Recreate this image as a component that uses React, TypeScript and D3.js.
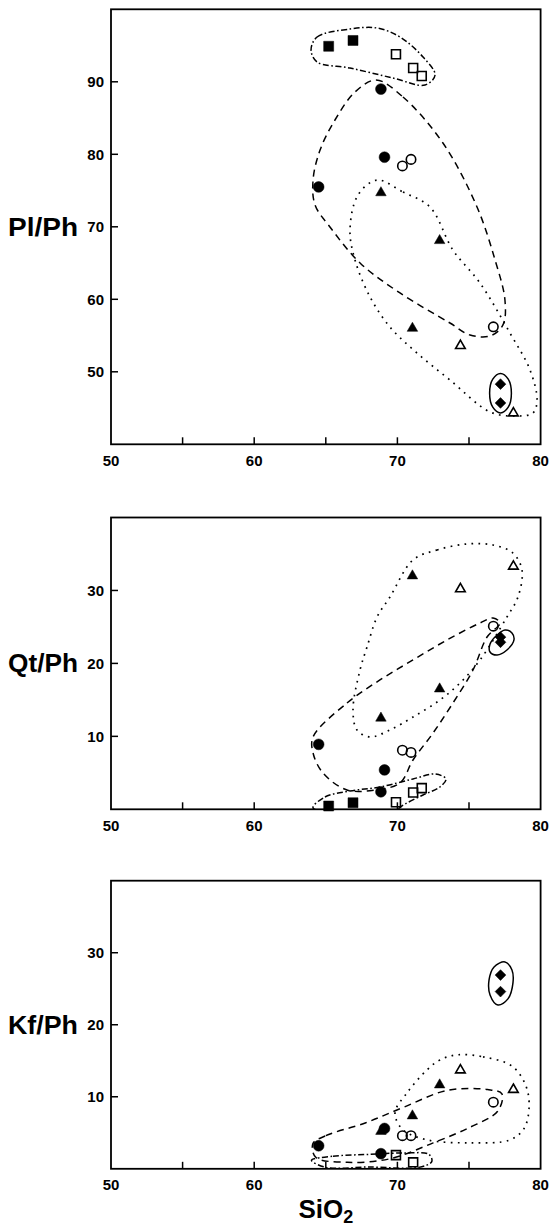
import React from "react";
import * as d3 from "d3";

// sample symbols, in the same order as the value arrays below
const SAMPLE_TYPES = [
  "squareFilled", "squareFilled",
  "squareOpen", "squareOpen", "squareOpen",
  "circleFilled", "circleFilled", "circleFilled",
  "circleOpen", "circleOpen", "circleOpen",
  "triangleFilled", "triangleFilled", "triangleFilled",
  "triangleOpen", "triangleOpen",
  "diamond", "diamond",
];

const SIO2 = [65.2, 66.9, 69.9, 71.1, 71.7, 64.5, 68.85, 69.1, 70.35, 70.95, 76.7, 68.85, 71.05, 72.95, 74.4, 78.1, 77.2, 77.2];
const PL_PH = [94.9, 95.7, 93.8, 91.9, 90.8, 75.5, 89.0, 79.6, 78.4, 79.3, 56.2, 74.7, 56.0, 68.1, 53.6, 44.3, 48.3, 45.7];
const QT_PH = [0.45, 0.9, 0.96, 2.3, 2.9, 8.9, 2.4, 5.4, 8.1, 7.8, 25.1, 12.5, 32.0, 16.5, 30.2, 33.3, 23.6, 22.9];
const KF_PH = [null, null, 1.9, 0.9, null, 3.2, 2.1, 5.6, 4.6, 4.6, 9.25, 5.2, 7.35, 11.65, 13.7, 11.0, 26.9, 24.6];

const X_TICKS = [55, 60, 65, 70, 75];
const X_LABELS = [50, 60, 70, 80];
const PL_TICKS = [50, 60, 70, 80, 90];
const RATIO_TICKS = [10, 20, 30];

// hand-drawn group envelopes, [SiO2, ratio]
const PL_ENV_SQUARES = [[63.97, 94.39], [64.39, 96.18], [66.69, 97.28], [68.58, 97.42], [70.18, 96.18], [71.79, 93.42], [72.63, 90.94], [71.93, 89.56], [69.69, 90.52], [66.69, 91.9], [64.39, 92.73]];
const PL_ENV_CIRCLES = [[68.51, 90.25], [70.39, 87.9], [73.18, 81.56], [75.56, 72.73], [76.82, 65.42], [77.51, 59.9], [77.37, 56.46], [76.47, 54.94], [75.07, 55.08], [73.67, 56.73], [70.18, 60.87], [67.39, 65.01], [65.29, 69.98], [64.25, 73.01], [64.11, 76.46], [64.6, 80.59], [65.64, 84.73], [67.04, 88.59]];
const PL_ENV_TRIANGLES = [[68.58, 76.45], [70.39, 74.79], [72.28, 72.72], [73.88, 66.79], [75.77, 62.24], [77.86, 55.35], [79.26, 50.25], [79.75, 46.11], [79.47, 44.32], [78.21, 43.9], [76.47, 44.46], [73.67, 48.87], [71.37, 52.59], [69.48, 56.18], [68.09, 60.32], [67.04, 65.42], [66.69, 69.56], [67.25, 74.39]];
const PL_ENV_DIAMONDS = [[77.96, 47.05], [77.74, 48.98], [77.2, 49.78], [76.66, 48.98], [76.44, 47.05], [76.66, 45.12], [77.2, 44.32], [77.74, 45.12]];

const QT_ENV_SQUARES = [[64.11, 0.18], [64.94, 1.69], [66.69, 2.51], [68.78, 3.06], [71.09, 4.16], [72.63, 4.84], [73.39, 4.16], [72.97, 3.06], [71.79, 1.96], [70.53, 0.73], [69.83, -0.1], [67.39, -0.37]];
const QT_ENV_CIRCLES = [[64.11, 9.91], [66.48, 14.57], [68.78, 17.73], [71.09, 20.47], [73.46, 23.21], [75.77, 25.54], [76.68, 26.22], [77.16, 25.54], [76.26, 23.62], [75.28, 19.1], [73.88, 14.57], [72.49, 10.46], [71.09, 6.76], [70.18, 3.61], [68.44, 2.65], [66.48, 2.65], [64.8, 4.98], [64.11, 7.72]];
const QT_ENV_TRIANGLES = [[71.09, 34.18], [72.77, 35.55], [74.86, 36.37], [76.68, 36.23], [78.07, 35.13], [78.7, 32.8], [78.42, 29.1], [77.65, 26.36], [75.77, 20.47], [74.37, 17.31], [72.97, 14.98], [71.09, 12.65], [69.48, 10.87], [68.09, 9.91], [67.18, 10.87], [66.9, 13.61], [67.39, 19.1], [67.88, 22.25], [68.58, 26.36], [69.48, 29.1]];
const QT_ENV_DIAMONDS = [[78.0, 24.17], [78.14, 23.21], [77.65, 21.84], [76.96, 21.15], [76.47, 21.56], [76.47, 22.66], [76.96, 23.89], [77.51, 24.58]];

const KF_ENV_SQUARES = [[64.0, 1.2], [65.5, 1.75], [68.0, 2.0], [70.5, 2.2], [72.2, 2.0], [72.4, 1.0], [71.5, 0.2], [68.0, 0.25], [65.0, 0.2]];
const KF_ENV_CIRCLES = [[64.1, 3.5], [65.0, 4.6], [67.8, 6.4], [70.5, 8.6], [73.5, 10.9], [76.3, 11.0], [77.3, 10.4], [77.0, 8.0], [75.0, 5.7], [72.5, 3.6], [69.5, 1.4], [66.5, 0.9], [64.3, 1.6]];
const KF_ENV_TRIANGLES = [[74.16, 15.82], [75.98, 15.54], [78.07, 14.15], [79.12, 10.54], [78.91, 5.83], [77.86, 4.02], [75.07, 3.61], [72.07, 4.02], [70.39, 5.41], [69.83, 7.77], [70.67, 10.54], [72.07, 13.74], [72.97, 15.12]];
const KF_ENV_DIAMONDS = [[77.51, 28.72], [78.0, 27.61], [78.07, 25.81], [77.72, 23.59], [77.02, 22.75], [76.47, 24.14], [76.4, 26.22], [76.75, 28.03]];

const FONT = "'Liberation Sans', Arial, Helvetica, sans-serif";
const LEFT = 111;
const RIGHT = 540.6;

const DASH = {
  dashdot: "6 2.5 1.6 2.5",
  dashed: "7 5",
  dotted: "1.7 5.3",
  solid: null,
};

const PANELS = [
  {
    key: "pl", title: "Pl/Ph", top: 9.3, bottom: 444.3, domain: [40, 100], ticks: PL_TICKS, titleAt: 70, values: PL_PH,
    envelopes: [
      { pts: PL_ENV_SQUARES, style: "dashdot" },
      { pts: PL_ENV_CIRCLES, style: "dashed" },
      { pts: PL_ENV_TRIANGLES, style: "dotted" },
      { pts: PL_ENV_DIAMONDS, style: "solid" },
    ],
  },
  {
    key: "qt", title: "Qt/Ph", top: 517.5, bottom: 809.3, domain: [0, 40], ticks: RATIO_TICKS, titleAt: 20, values: QT_PH,
    envelopes: [
      { pts: QT_ENV_SQUARES, style: "dashdot" },
      { pts: QT_ENV_CIRCLES, style: "dashed" },
      { pts: QT_ENV_TRIANGLES, style: "dotted" },
      { pts: QT_ENV_DIAMONDS, style: "solid" },
    ],
  },
  {
    key: "kf", title: "Kf/Ph", top: 880.7, bottom: 1168.8, domain: [0, 40], ticks: RATIO_TICKS, titleAt: 20, values: KF_PH,
    envelopes: [
      { pts: KF_ENV_SQUARES, style: "dashdot" },
      { pts: KF_ENV_CIRCLES, style: "dashed" },
      { pts: KF_ENV_TRIANGLES, style: "dotted" },
      { pts: KF_ENV_DIAMONDS, style: "solid" },
    ],
  },
];

function marker(type: string) {
  switch (type) {
    case "squareFilled":
      return { d: d3.symbol(d3.symbolSquare, 100)(), filled: true, rot: 0 };
    case "squareOpen":
      return { d: d3.symbol(d3.symbolSquare, 80)(), filled: false, rot: 0 };
    case "circleFilled":
      return { d: d3.symbol(d3.symbolCircle, 92)(), filled: true, rot: 0 };
    case "circleOpen":
      return { d: d3.symbol(d3.symbolCircle, 70)(), filled: false, rot: 0 };
    case "triangleFilled":
      return { d: d3.symbol(d3.symbolTriangle, 48)(), filled: true, rot: 0 };
    case "triangleOpen":
      return { d: d3.symbol(d3.symbolTriangle, 40)(), filled: false, rot: 0 };
    default:
      return { d: d3.symbol(d3.symbolSquare, 58)(), filled: true, rot: 45 };
  }
}

function Panel({ p }: { p: any }) {
  const x = d3.scaleLinear().domain([50, 80]).range([LEFT, RIGHT]);
  const y = d3.scaleLinear().domain(p.domain).range([p.bottom, p.top]);
  const line = d3
    .line<number[]>()
    .x((d) => x(d[0]))
    .y((d) => y(d[1]))
    .curve(d3.curveCatmullRomClosed.alpha(0.5));
  const clipId = `clip-${p.key}`;

  return (
    <g>
      <clipPath id={clipId}>
        <rect x={LEFT} y={p.top} width={RIGHT - LEFT} height={p.bottom - p.top} />
      </clipPath>

      {/* envelopes */}
      <g clipPath={`url(#${clipId})`}>
        {p.envelopes.map((e: any, i: number) => (
          <path
            key={i}
            d={line(e.pts) || ""}
            fill="none"
            stroke="#000"
            strokeWidth={e.style === "dotted" ? 1.7 : 1.5}
            strokeDasharray={DASH[e.style as keyof typeof DASH] || undefined}
          />
        ))}
      </g>

      {/* samples */}
      {SIO2.map((sx, i) => {
        const v = p.values[i];
        if (v == null) return null;
        const m = marker(SAMPLE_TYPES[i]);
        return (
          <path
            key={i}
            d={m.d || ""}
            transform={`translate(${x(sx)},${y(v)}) rotate(${m.rot})`}
            fill={m.filled ? "#000" : "none"}
            stroke="#000"
            strokeWidth={m.filled ? 0.5 : 1.6}
          />
        );
      })}

      {/* frame */}
      <rect
        x={LEFT}
        y={p.top}
        width={RIGHT - LEFT}
        height={p.bottom - p.top}
        fill="none"
        stroke="#000"
        strokeWidth={1.8}
      />

      {/* x ticks (inward) */}
      {X_TICKS.map((t) => (
        <line key={t} x1={x(t)} x2={x(t)} y1={p.bottom} y2={p.bottom - 7} stroke="#000" strokeWidth={1.5} />
      ))}
      {X_LABELS.map((t) => (
        <text
          key={t}
          x={x(t)}
          y={p.bottom + 21.5}
          textAnchor="middle"
          fontFamily={FONT}
          fontWeight={700}
          fontSize={15}
        >
          {t}
        </text>
      ))}

      {/* y ticks (inward) */}
      {p.ticks.map((t: number) => (
        <g key={t}>
          <line x1={LEFT} x2={LEFT + 7} y1={y(t)} y2={y(t)} stroke="#000" strokeWidth={1.5} />
          <text
            x={104}
            y={y(t)}
            dy="0.36em"
            textAnchor="end"
            fontFamily={FONT}
            fontWeight={700}
            fontSize={15}
          >
            {t}
          </text>
        </g>
      ))}

      <text
        x={8}
        y={y(p.titleAt) + 9}
        fontFamily={FONT}
        fontWeight={700}
        fontSize={25}
        textLength={70}
        lengthAdjust="spacingAndGlyphs"
      >
        {p.title}
      </text>
    </g>
  );
}

export default function App() {
  const cx = (LEFT + RIGHT) / 2;
  return (
    <svg
      width={551}
      height={1226}
      viewBox="0 0 551 1226"
      style={{ position: "absolute", left: 0, top: 0, background: "#fff" }}
    >
      <rect width={551} height={1226} fill="#fff" />
      {PANELS.map((p) => (
        <Panel key={p.key} p={p} />
      ))}
      <text x={cx} y={1218} textAnchor="middle" fontFamily={FONT} fontWeight={700} fontSize={26}>
        SiO
        <tspan fontSize={18} dy={5}>
          2
        </tspan>
      </text>
    </svg>
  );
}
